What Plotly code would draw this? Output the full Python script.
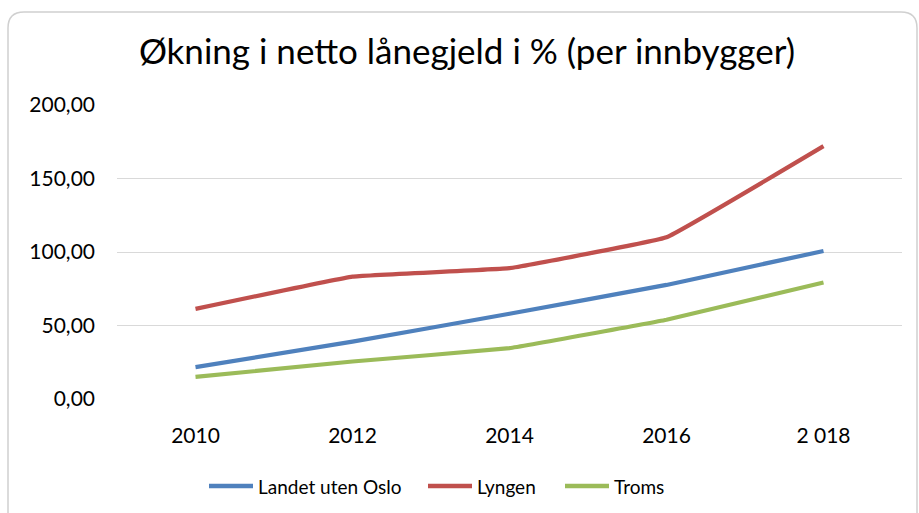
import plotly.graph_objects as go

categories = ["2010", "2012", "2014", "2016", "2 018"]
series_names = ["Landet uten Oslo", "Lyngen", "Troms"]
landet = [21.7, 39.0, 58.0, 77.6, 100.7]
lyngen = [61.3, 83.3, 89.0, 110.0, 172.0]
troms = [15.0, 25.5, 34.6, 53.9, 79.2]
y_ticks = [0, 50, 100, 150, 200]
y_tick_labels = ["0,00", "50,00", "100,00", "150,00", "200,00"]
colors = ["#4F81BD", "#C0504D", "#9BBB59"]

FONT = "Lato"
fig = go.Figure()
for name, vals, col in zip(series_names, [landet, lyngen, troms], colors):
    fig.add_trace(go.Scatter(x=categories, y=vals, name=name, mode="lines", showlegend=False,
                             line=dict(color=col, width=4.2, shape="spline", smoothing=0.2)))

L, R, T, B = 117, 17, 105, 114
W, H = 919, 513
pw, ph = W - L - R, H - T - B

def px(x):
    return (x - L) / pw

def py(y):
    return (H - B - y) / ph

x0, x1, y0, y1 = px(8), px(917), py(520), py(12)
rx, ry = 16 / pw, 16 / ph
path = (f"M {x0} {y0} L {x0} {y1 - ry} Q {x0} {y1} {x0 + rx} {y1} "
        f"L {x1 - rx} {y1} Q {x1} {y1} {x1} {y1 - ry} L {x1} {y0}")

shapes = [dict(type="path", path=path, xref="paper", yref="paper",
               line=dict(color="#D0D0D0", width=1.5), layer="below")]
annotations = []
# manual legend
leg_y = py(486)
leg_starts = [209, 428, 565]
for name, col, xs in zip(series_names, colors, leg_starts):
    shapes.append(dict(type="line", xref="paper", yref="paper", x0=px(xs), x1=px(xs + 44),
                       y0=leg_y, y1=leg_y, line=dict(color=col, width=4.5)))
    annotations.append(dict(text=name, xref="paper", yref="paper", x=px(xs + 47), y=leg_y,
                            xanchor="left", yanchor="middle", showarrow=False,
                            font=dict(size=19, family=FONT, color="#000000")))

fig.update_layout(
    width=W, height=H,
    margin=dict(l=L, r=R, t=T, b=B, autoexpand=False),
    paper_bgcolor="white", plot_bgcolor="white",
    font=dict(family=FONT, color="#000000"),
    title=dict(text="Økning i netto lånegjeld i % (per innbygger)", x=467 / W, xanchor="center",
               y=1 - 52 / H, yanchor="middle", font=dict(size=35, family=FONT, color="#000000")),
    showlegend=False,
    shapes=shapes,
    annotations=annotations,
    xaxis=dict(type="category", showgrid=False, showline=False, ticks="", automargin=False,
               tickfont=dict(size=21, family=FONT), ticklabelstandoff=22, range=[-0.5, 4.5]),
    yaxis=dict(range=[0, 200], tickvals=y_ticks, ticktext=y_tick_labels, showgrid=True,
               gridcolor="#D9D9D9", gridwidth=1.3, zeroline=False, showline=False, ticks="",
               automargin=False, tickfont=dict(size=21, family=FONT), ticklabelstandoff=21),
)
fig.write_html("out.html", config={"displayModeBar": False},
               post_script="document.body.style.margin='0';document.body.style.padding='0';")
